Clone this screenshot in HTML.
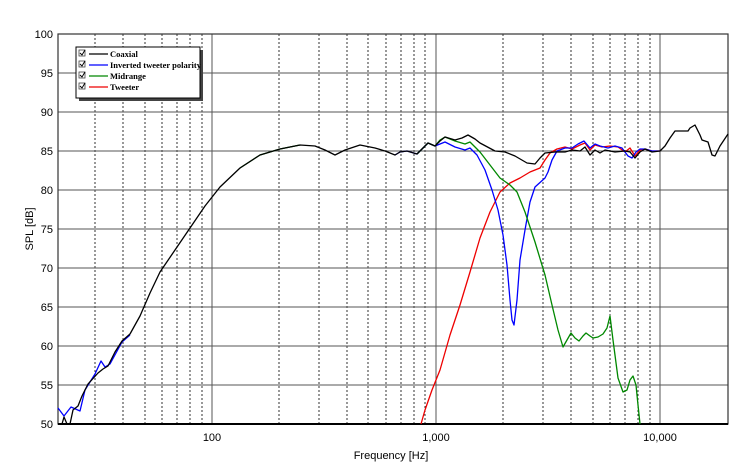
<!DOCTYPE html>
<html><head><meta charset="utf-8"><style>
body{margin:0;background:#fff}
svg{display:block}
.s{font-family:"Liberation Sans",sans-serif}
.lg{font-family:"Liberation Serif",serif;font-weight:bold;font-size:8.5px}
</style></head><body>
<svg width="750" height="471" viewBox="0 0 750 471">
<rect width="750" height="471" fill="#fff"/>
<g stroke="#000" stroke-width="0.8" stroke-dasharray="2,2">
<line x1="95" y1="34" x2="95" y2="424"/><line x1="123" y1="34" x2="123" y2="424"/>
<line x1="145" y1="34" x2="145" y2="424"/><line x1="162" y1="34" x2="162" y2="424"/>
<line x1="177" y1="34" x2="177" y2="424"/><line x1="190" y1="34" x2="190" y2="424"/>
<line x1="202" y1="34" x2="202" y2="424"/>
<line x1="279" y1="34" x2="279" y2="424"/><line x1="319" y1="34" x2="319" y2="424"/>
<line x1="347" y1="34" x2="347" y2="424"/><line x1="368" y1="34" x2="368" y2="424"/>
<line x1="386" y1="34" x2="386" y2="424"/><line x1="401" y1="34" x2="401" y2="424"/>
<line x1="414" y1="34" x2="414" y2="424"/><line x1="425" y1="34" x2="425" y2="424"/>
<line x1="503" y1="34" x2="503" y2="424"/><line x1="543" y1="34" x2="543" y2="424"/>
<line x1="571" y1="34" x2="571" y2="424"/><line x1="593" y1="34" x2="593" y2="424"/>
<line x1="610" y1="34" x2="610" y2="424"/><line x1="625" y1="34" x2="625" y2="424"/>
<line x1="638" y1="34" x2="638" y2="424"/><line x1="650" y1="34" x2="650" y2="424"/>
</g>
<g stroke="#555" stroke-width="1">
<line x1="58" y1="73" x2="728" y2="73"/><line x1="58" y1="112" x2="728" y2="112"/>
<line x1="58" y1="151" x2="728" y2="151"/><line x1="58" y1="190" x2="728" y2="190"/>
<line x1="58" y1="229" x2="728" y2="229"/><line x1="58" y1="268" x2="728" y2="268"/>
<line x1="58" y1="307" x2="728" y2="307"/><line x1="58" y1="346" x2="728" y2="346"/>
<line x1="58" y1="385" x2="728" y2="385"/>
<line x1="212" y1="34" x2="212" y2="424"/><line x1="436" y1="34" x2="436" y2="424"/>
<line x1="660" y1="34" x2="660" y2="424"/>
</g>
<rect x="58" y="34" width="670" height="390" fill="none" stroke="#333" stroke-width="1.2"/>
<line x1="58" y1="424" x2="728" y2="424" stroke="#000" stroke-width="2"/>
<g class="s" font-size="11" fill="#000" text-anchor="end">
<text x="53" y="38">100</text><text x="53" y="77">95</text><text x="53" y="116">90</text>
<text x="53" y="155">85</text><text x="53" y="194">80</text><text x="53" y="233">75</text>
<text x="53" y="272">70</text><text x="53" y="311">65</text><text x="53" y="350">60</text>
<text x="53" y="389">55</text><text x="53" y="428">50</text>
</g>
<g class="s" font-size="11" text-anchor="middle">
<text x="212" y="441">100</text><text x="436" y="441">1,000</text><text x="660" y="441">10,000</text>
<text x="391" y="459">Frequency [Hz]</text>
<text transform="translate(33,229) rotate(-90)">SPL [dB]</text>
</g>
<g fill="none" stroke-width="1.3" stroke-linejoin="round">
<path stroke="#00f" d="M58,408 L64,416 L71,407 L80,411 L85,390 L95,374 L101,361 L105,367 L110,364 L122,342 L130,335"/>
<path stroke="#e00" d="M421,424 L425,410 L432,390 L440,370 L450,335 L460,305 L470,272 L480,238 L490,212 L500,192 L510,183 L520,178 L530,172 L540,168 L545,160 L550,153 L557,149 L565,147 L572,149 L580,145 L585,143 L590,150 L595,145 L602,147 L610,146 L618,147 L625,152 L630,148 L635,156 L640,150 L645,149 L652,151 L660,151"/>
<path stroke="#080" d="M240,168 L260,155 L280,149 L290,147 L300,145"/>
<path stroke="#00f" d="M395,155 L400,152 L407,151 L417,154 L428,143 L435,146 L440,144 L445,142 L455,147 L465,150 L470,148 L477,155 L485,170 L492,190 L498,210 L503,235 L507,265 L510,300 L512,320 L514,325 L517,300 L520,260 L525,230 L530,202 L535,187 L545,178 L548,172 L552,160 L557,151 L565,148 L572,148 L578,144 L584,141 L590,148 L595,144 L600,146 L608,148 L615,146 L622,148 L628,156 L632,158 L636,152 L640,149 L645,149 L652,151 L660,151"/>
<path stroke="#080" d="M417,154 L428,143 L435,146 L440,140 L445,137 L455,141 L465,144 L470,142 L480,152 L490,165 L500,178 L510,185 L517,192 L525,212 L535,242 L545,275 L552,305 L558,330 L563,347 L567,340 L571,333 L575,338 L579,341 L583,336 L586,333 L590,336 L593,338 L598,337 L603,334 L607,328 L610,316 L613,340 L618,378 L623,392 L627,390 L630,380 L633,376 L636,385 L638,405 L640,424"/>
<path stroke="#000" d="M62,424 L64,417 L67,424 L70,424 L73,410 L78,406 L82,396 L88,384 L98,373 L103,369 L108,366 L115,352 L122,341 L130,334 L140,316 L150,293 L160,272 L175,250 L190,228 L205,206 L220,187 L240,168 L260,155 L280,149 L300,145 L315,146 L325,150 L335,155 L345,150 L360,145 L375,148 L385,151 L395,155 L400,152 L407,151 L417,154 L428,143 L435,146 L440,141 L445,137 L455,140 L462,138 L468,135 L475,139 L480,143 L495,151 L505,152 L515,156 L527,163 L535,164 L540,158 L545,153 L555,152 L565,152 L572,150 L580,151 L585,147 L590,155 L595,150 L600,153 L605,150 L615,152 L625,151 L630,152 L635,158 L640,152 L645,149 L652,152 L660,151 L665,146 L670,138 L675,131 L680,131 L688,131 L690,128 L695,125 L700,135 L702,140 L708,142 L712,155 L715,156 L720,146 L728,134"/>
</g>
<rect x="79" y="50" width="124" height="51" fill="#444"/>
<rect x="76" y="47" width="124" height="51" fill="#fff" stroke="#000" stroke-width="1"/>
<g stroke="#444" fill="#fff" stroke-width="0.8">
<rect x="79" y="50" width="6" height="6"/><rect x="79" y="61" width="6" height="6"/>
<rect x="79" y="72" width="6" height="6"/><rect x="79" y="83" width="6" height="6"/>
</g>
<g stroke="#000" fill="none" stroke-width="1">
<path d="M80,53 L82,55 L85,50"/><path d="M80,64 L82,66 L85,61"/>
<path d="M80,75 L82,77 L85,72"/><path d="M80,86 L82,88 L85,83"/>
</g>
<g stroke-width="1.3">
<line x1="89" y1="54" x2="108" y2="54" stroke="#000"/><line x1="89" y1="65" x2="108" y2="65" stroke="#00f"/>
<line x1="89" y1="76" x2="108" y2="76" stroke="#080"/><line x1="89" y1="87" x2="108" y2="87" stroke="#e00"/>
</g>
<g class="lg">
<text x="110" y="57">Coaxial</text><text x="110" y="68">Inverted tweeter polarity</text>
<text x="110" y="79">Midrange</text><text x="110" y="90">Tweeter</text>
</g>
</svg>
</body></html>
